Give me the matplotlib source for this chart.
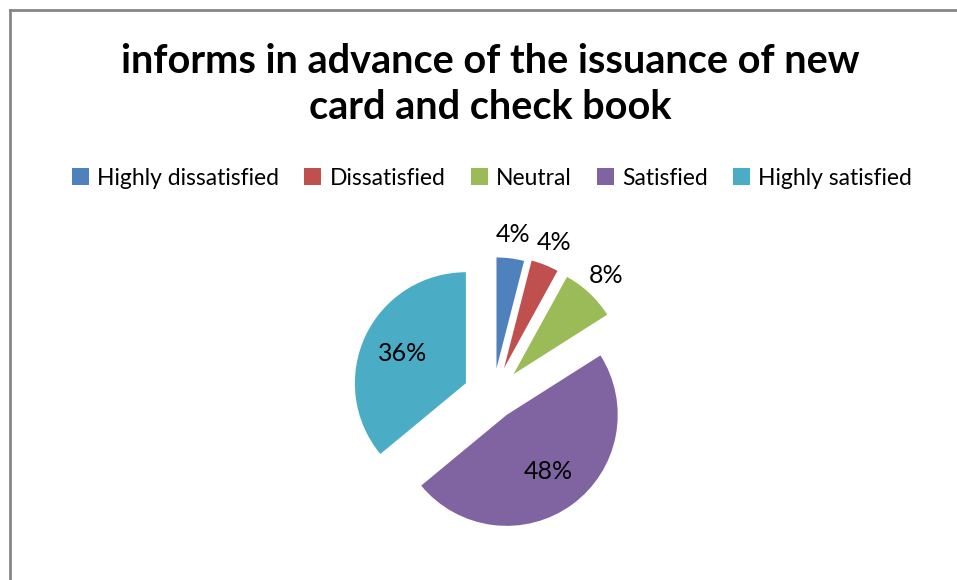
import numpy as np
import matplotlib.pyplot as plt
from matplotlib.lines import Line2D
from matplotlib.patches import Patch

plt.rcParams['font.family'] = ['Lato', 'DejaVu Sans']

# survey responses
categories = ['Highly dissatisfied', 'Dissatisfied', 'Neutral', 'Satisfied', 'Highly satisfied']
shares = [4, 4, 8, 48, 36]
colors = ['#4F81BD', '#C0504D', '#9BBB59', '#8064A2', '#4BACC6']
explode = [0.25, 0.27, 0.27, 0.21, 0.27]

W, H = 957, 580
R = 111.0           # pie radius in pixels
cx, cy = 493, 396   # pie centre in pixels (from top-left)

fig = plt.figure(figsize=(W / 100, H / 100), dpi=100)
ax = fig.add_axes([0, 0, 1, 1])

wedges, texts, autotexts = ax.pie(
    shares, explode=explode, colors=colors, startangle=90, counterclock=False,
    autopct='%1.0f%%', radius=1, center=(0, 0), frame=True,
    wedgeprops=dict(linewidth=0), textprops=dict(fontsize=18, color='black'))
ax.axis('off')
ax.set_xlim(-cx / R, (W - cx) / R)
ax.set_ylim((cy - H) / R, cy / R)

# small slices get their labels outside, big ones inside
for w, t, v in zip(wedges, autotexts, shares):
    mid = np.deg2rad((w.theta1 + w.theta2) / 2)
    d = 1.22 if v < 10 else 0.63
    x0, y0 = w.center
    t.set_position((x0 + d * np.cos(mid), y0 + d * np.sin(mid)))
    t.set_ha('center')
    t.set_va('center')

fig.text(0.512, 0.855, 'informs in advance of the issuance of new\ncard and check book',
         ha='center', va='center', fontsize=28.5, fontweight='bold', linespacing=1.3)

handles = [Patch(facecolor=c, edgecolor='none') for c in colors]
fig.legend(handles, categories, loc='center', bbox_to_anchor=(0.514, 0.693), ncol=5,
           frameon=False, fontsize=16.5, handlelength=0.75, handleheight=0.75,
           handletextpad=0.35, columnspacing=1.1)

# chart border (left and top edges in view)
fig.add_artist(Line2D([9.5 / W, 9.5 / W], [0, 1 - 10 / H], transform=fig.transFigure,
                      color='#868686', lw=2))
fig.add_artist(Line2D([9.5 / W, 1], [1 - 10 / H, 1 - 10 / H], transform=fig.transFigure,
                      color='#868686', lw=2))

fig.savefig('out.png', dpi=100, facecolor='white')
